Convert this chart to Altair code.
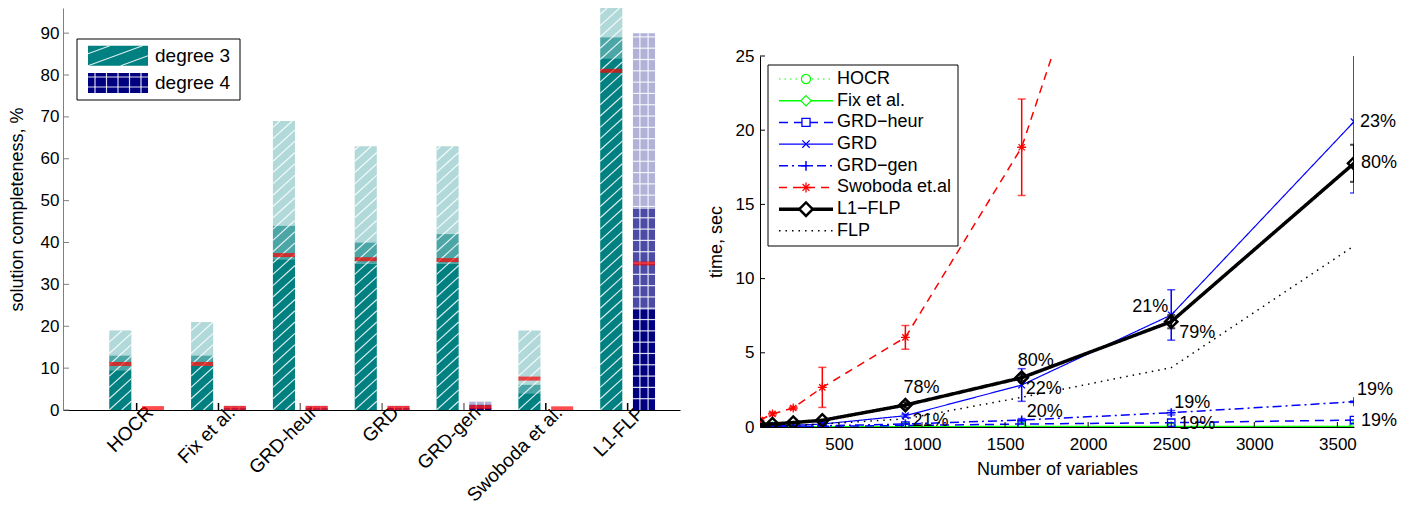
import altair as alt
import pandas as pd

FONT = "Liberation Sans"

# ---------------- left chart data ----------------
methods = ["HOCR", "Fix et al.", "GRD-heur", "GRD", "GRD-gen", "Swoboda et al.", "L1-FLP"]
d3_low = [9.5, 10.5, 36, 35, 35, 4, 84]
d3_mid = [13, 13, 44, 40, 42, 6, 89]
d3_tot = [19, 21, 69, 63, 63, 19, 100]
d3_red = [11, 11, 37, 36, 35.8, 7.5, 81]
d4_low = [0, 0, 0, 0, 0.5, 0, 24]
d4_mid = [0, 0.5, 0.5, 0.5, 1.3, 0, 48]
d4_tot = [0, 1, 1, 1, 2, 0, 90]
d4_red = [0.45, 0.5, 0.5, 0.5, 0.7, 0.4, 35]
tick_col = ["#000000", "#000000", "#777777", "#777777", "#777777", "#000000", "#000000"]

OFF = 0.2
BW = 0.135
YMAX = 96
LW, LH = 617, 402
HATCH_STEP = 2.7      # vertical spacing of hatch lines, in data units
HATCH_RISE = 4.8      # rise of a diagonal across the bar width, in data units


def diag_segments(xl, xr, bottom, top, step, rise):
    segs = []
    k = -int(rise / step) - 1
    while bottom + k * step < top:
        ys = bottom + k * step
        t0 = max(0.0, (bottom - ys) / rise)
        t1 = min(1.0, (top - ys) / rise)
        if t1 > t0:
            segs.append(dict(x0=xl + t0 * (xr - xl), x1=xl + t1 * (xr - xl),
                             y0=ys + t0 * rise, y1=ys + t1 * rise))
        k += 1
    return segs


bar_rows, red_rows, hatch_rows = [], [], []
for i, m in enumerate(methods):
    g = i + 1
    for deg, off, lo, mi, to, rd in [
        ("degree 3", -OFF, d3_low[i], d3_mid[i], d3_tot[i], d3_red[i]),
        ("degree 4", OFF, d4_low[i], d4_mid[i], d4_tot[i], d4_red[i]),
    ]:
        xl, xr = g + off - BW, g + off + BW
        for y0, y1, op in [(0, lo, 1.0), (lo, mi, 0.7), (mi, to, 0.3)]:
            if y1 > y0:
                bar_rows.append(dict(x0=xl, x1=xr, y0=y0, y1=y1, deg=deg, op=op))
        red_rows.append(dict(x0=g + off, y0=rd))
        top = min(to, YMAX)
        if top <= 0:
            continue
        if deg == "degree 3":
            hatch_rows += diag_segments(xl, xr, 0, top, HATCH_STEP, HATCH_RISE)
        else:
            k = 1
            while k * HATCH_STEP < top:
                hatch_rows.append(dict(x0=xl, x1=xr, y0=k * HATCH_STEP, y1=k * HATCH_STEP))
                k += 1
            for xv in [g + off - 0.05, g + off + 0.05]:
                hatch_rows.append(dict(x0=xv, x1=xv, y0=0, y1=top))

bars_df = pd.DataFrame(bar_rows)
red_df = pd.DataFrame(red_rows)
hatch_df = pd.DataFrame(hatch_rows)
gt_df = pd.DataFrame({"x0": list(range(1, 8)), "tc": tick_col})
yt_df = pd.DataFrame({"y0": list(range(0, 100, 10))})

label_expr = "[" + ",".join("'%s'" % m for m in methods) + "][datum.value - 1]"

xs_left = alt.Scale(domain=[0.1, 7.64], nice=False, zero=False)
ys_left = alt.Scale(domain=[0, YMAX], nice=False)
ax_lx = alt.Axis(values=list(range(1, 8)), labelExpr=label_expr, title=None,
                 labelAngle=-45, labelAlign="right", labelBaseline="middle", labelFontSize=19,
                 labelPadding=-1, labelOffset=13, labelOverlap=False, domainColor="#000000")
ax_ly = alt.Axis(values=list(range(0, 100, 10)), title="solution completeness, %",
                 titleFontSize=18, titlePadding=14, labelPadding=4, labelFontSize=17,
                 domainColor="#808080")

XL = alt.X("x0:Q", scale=xs_left, axis=ax_lx)
YL = alt.Y("y0:Q", scale=ys_left, axis=ax_ly)

bars = alt.Chart(bars_df).mark_bar(clip=True).encode(
    x=XL, x2="x1:Q", y=YL, y2="y1:Q",
    color=alt.Color("deg:N", scale=alt.Scale(domain=["degree 3", "degree 4"],
                                             range=["#008080", "#000080"]), legend=None),
    opacity=alt.Opacity("op:Q", scale=None),
)

hatch = alt.Chart(hatch_df).mark_rule(color="#ffffff", strokeWidth=1.2, opacity=0.85,
                                      clip=True).encode(x=XL, x2="x1:Q", y=YL, y2="y1:Q")

reds = alt.Chart(red_df).mark_tick(orient="horizontal", color="#ff0000", thickness=4,
                                   size=22, clip=True).encode(x=XL, y=YL)

gticks = alt.Chart(gt_df).mark_rule(strokeWidth=1.5).encode(
    x=XL, y=alt.value(LH), y2=alt.value(LH - 7),
    color=alt.Color("tc:N", scale=None))

yticks = alt.Chart(yt_df).mark_rule(color="#808080").encode(
    y=YL, x=alt.value(0), x2=alt.value(6))

# left legend (its own pixel-like x scale and row-based y scale)
ROWPX = 27.3
leg_l = pd.DataFrame({"row": [0, 1], "lab": ["degree 3", "degree 4"],
                      "deg": ["degree 3", "degree 4"]})
ly = alt.Scale(domain=[-1.747, LH / ROWPX - 1.747], reverse=True, nice=False, zero=False)
lx = alt.Scale(domain=[0, LW], nice=False, zero=False)
SW_L, SW_R, SW_H = 25, 85, 20
sw_h = SW_H / 2 / ROWPX
leg_hatch = []
for s in diag_segments(SW_L, SW_R, -sw_h, sw_h, 12 / ROWPX, 22 / ROWPX):
    # rows grow downwards, so mirror the diagonal to make it rise to the right
    leg_hatch.append(dict(x0=s["x0"], x1=s["x1"], y0=-s["y0"], y1=-s["y1"]))
for xv in [32, 43.5, 55, 66.5, 78]:
    leg_hatch.append(dict(x0=xv, x1=xv, y0=1 - sw_h, y1=1 + sw_h))
for yo in [-6, 4]:
    leg_hatch.append(dict(x0=SW_L, x1=SW_R, y0=1 + yo / ROWPX, y1=1 + yo / ROWPX))
leg_hatch_df = pd.DataFrame(leg_hatch)

leg_box_l = alt.Chart(pd.DataFrame({"a": [0]})).mark_rect(
    fill="white", stroke="#000000", strokeWidth=1).encode(
    x=alt.value(14), x2=alt.value(177), y=alt.value(31), y2=alt.value(92))
leg_sw = alt.Chart(leg_l).mark_tick(orient="horizontal", size=SW_R - SW_L, thickness=SW_H).encode(
    x=alt.value((SW_L + SW_R) / 2), y=alt.Y("row:Q", scale=ly, axis=None),
    color=alt.Color("deg:N", scale=alt.Scale(domain=["degree 3", "degree 4"],
                                             range=["#008080", "#000080"]), legend=None),
    opacity=alt.value(1))
leg_sw_hatch = alt.Chart(leg_hatch_df).mark_rule(color="#ffffff", strokeWidth=1.2,
                                                 opacity=0.85).encode(
    x=alt.X("x0:Q", scale=lx, axis=None), x2="x1:Q",
    y=alt.Y("y0:Q", scale=ly, axis=None), y2="y1:Q")
leg_tx = alt.Chart(leg_l).mark_text(align="left", baseline="middle", font=FONT,
                                    fontSize=19, color="#000000").encode(
    x=alt.value(92), y=alt.Y("row:Q", scale=ly, axis=None), text="lab:N")

left = alt.layer(
    alt.layer(bars, hatch, reds, gticks, yticks),
    alt.layer(leg_box_l, leg_sw, leg_sw_hatch, leg_tx),
).resolve_scale(x="independent", y="independent", color="independent").properties(
    width=LW, height=LH)

# ---------------- right chart data ----------------
n_vars = [25, 100, 225, 400, 900, 1600, 2500, 3600]
hocr = [0.01, 0.01, 0.01, 0.02, 0.02, 0.03, 0.03, 0.04]
fix = [0.01, 0.01, 0.01, 0.02, 0.02, 0.03, 0.03, 0.04]
grd_heur = [0.01, 0.02, 0.03, 0.05, 0.1, 0.2, 0.29, 0.47]
grd = [0.05, 0.08, 0.12, 0.2, 0.76, 2.83, 7.55, 20.57]
grd_err = [0, 0, 0, 0, 0.1, 1.1, 1.7, 4.8]
grd_gen = [0.02, 0.03, 0.05, 0.08, 0.2, 0.47, 0.96, 1.7]
grd_gen_err = [0, 0, 0, 0, 0, 0.1, 0.15, 0.05]
swoboda_x = [25, 100, 225, 400, 900, 1600, 2500]
swoboda = [0.47, 0.88, 1.28, 2.67, 6.04, 18.85, 49.2]
swoboda_err = [0.1, 0.1, 0.1, 1.35, 0.8, 3.25, 4.0]
l1flp = [0.15, 0.2, 0.3, 0.45, 1.48, 3.32, 7.1, 17.77]
l1flp_err = [0, 0, 0, 0, 0.2, 0.2, 0.45, 1.25]
flp = [0.02, 0.04, 0.1, 0.2, 0.55, 2.0, 4.0, 12.2]

names = ["HOCR", "Fix et al.", "GRD\u2212heur", "GRD", "GRD\u2212gen", "Swoboda et.al", "L1\u2212FLP", "FLP"]

X_PATH = "M-1,-1L1,1M-1,1L1,-1"
PLUS_PATH = "M-1,0L1,0M0,-1L0,1"
STAR_PATH = "M-1,0L1,0M0,-1L0,1M-0.7,-0.7L0.7,0.7M-0.7,0.7L0.7,-0.7"
SQ_PATH = "M-1,-1L1,-1L1,1L-1,1Z"

series = [
    dict(name=names[0], x=n_vars, y=hocr, err=None, color="#00ff00", dash=[1.5, 4], w=1.2,
         shape="circle", msize=70, mw=1.2),
    dict(name=names[1], x=n_vars, y=fix, err=None, color="#00ff00", dash=[1, 0], w=1.5,
         shape="diamond", msize=90, mw=1.2),
    dict(name=names[2], x=n_vars, y=grd_heur, err=None, color="#0000ff", dash=[9, 6], w=1.5,
         shape=SQ_PATH, msize=55, mw=1.3),
    dict(name=names[3], x=n_vars, y=grd, err=grd_err, color="#0000ff", dash=[1, 0], w=1.2,
         shape=X_PATH, msize=45, mw=1.3),
    dict(name=names[4], x=n_vars, y=grd_gen, err=grd_gen_err, color="#0000ff", dash=[9, 4, 2, 4],
         w=1.5, shape=PLUS_PATH, msize=80, mw=1.5),
    dict(name=names[5], x=swoboda_x, y=swoboda, err=swoboda_err, color="#ff0000", dash=[8, 6],
         w=1.5, shape=STAR_PATH, msize=80, mw=1.3),
    dict(name=names[6], x=n_vars, y=l1flp, err=l1flp_err, color="#000000", dash=[1, 0], w=3.5,
         shape="diamond", msize=150, mw=2.5),
    dict(name=names[7], x=n_vars, y=flp, err=None, color="#000000", dash=[1.5, 5], w=1.5,
         shape=None, msize=0, mw=0),
]

RW, RH = 594, 371
xs_r = alt.Scale(domain=[25, 3600], nice=False, zero=False)
ys_r = alt.Scale(domain=[0, 25], nice=False)

ax_rx = alt.Axis(values=[500, 1000, 1500, 2000, 2500, 3000, 3500], title="Number of variables",
                 titlePadding=8, labelPadding=9, format="d", labelOverlap=False,
                 titleFontSize=18, labelFontSize=17, domainColor="#000000")
ax_ry = alt.Axis(values=[0, 5, 10, 15, 20, 25], title="time, sec", titlePadding=10,
                 titleFontSize=18, labelFontSize=17, labelPadding=6, domainColor="#000000")


def XR(f="x"):
    return alt.X(f + ":Q", scale=xs_r, axis=ax_rx)


def YR(f="y"):
    return alt.Y(f + ":Q", scale=ys_r, axis=ax_ry)


data_layers = []
for s in series:
    df = pd.DataFrame({"x": s["x"], "y": s["y"]})
    data_layers.append(alt.Chart(df).mark_line(color=s["color"], strokeDash=s["dash"],
                                               strokeWidth=s["w"], clip=True).encode(x=XR(), y=YR()))
    if s["err"] is not None:
        edf = pd.DataFrame({"x": s["x"], "y": [a - e for a, e in zip(s["y"], s["err"])],
                            "hi": [a + e for a, e in zip(s["y"], s["err"])],
                            "e": s["err"]})
        edf = edf[edf["e"] > 0]
        ew = 2.0 if s["color"] == "#000000" else 1.5
        data_layers.append(alt.Chart(edf).mark_rule(color=s["color"], strokeWidth=ew, clip=True)
                           .encode(x=XR(), y=YR(), y2="hi:Q"))
        data_layers.append(alt.Chart(edf).mark_tick(orient="horizontal", color=s["color"],
                                                    size=8, thickness=ew, clip=True)
                           .encode(x=XR(), y=YR("y")))
        data_layers.append(alt.Chart(edf.assign(y=edf["hi"])).mark_tick(
            orient="horizontal", color=s["color"], size=8, thickness=ew, clip=True)
            .encode(x=XR(), y=YR("y")))
    if s["shape"] is not None:
        data_layers.append(alt.Chart(df).mark_point(shape=s["shape"], filled=False, color=s["color"],
                                                    size=s["msize"], strokeWidth=s["mw"], opacity=1,
                                                    clip=True)
                           .encode(x=XR(), y=YR()))

# inward ticks
xt_df = pd.DataFrame({"x": [500, 1000, 1500, 2000, 2500, 3000, 3500]})
yt2_df = pd.DataFrame({"y": [0, 5, 10, 15, 20, 25]})
data_layers.append(alt.Chart(xt_df).mark_rule(color="#000000").encode(
    x=XR(), y=alt.value(RH), y2=alt.value(RH - 5)))
data_layers.append(alt.Chart(yt2_df).mark_rule(color="#000000").encode(
    y=YR(), x=alt.value(0), x2=alt.value(5)))

# percentage annotations: (series index, x, text, dx, dy, align)
ann = [
    (6, 900, "78%", -2, -17, "left"),
    (3, 900, "21%", 7, 5, "left"),
    (6, 1600, "80%", -4, -17, "left"),
    (3, 1600, "22%", 4, 4, "left"),
    (4, 1600, "20%", 5, -8, "left"),
    (3, 2500, "21%", -3, -8, "right"),
    (6, 2500, "79%", 8, 11, "left"),
    (4, 2500, "19%", 3, -10, "left"),
    (2, 2500, "19%", 8, 1, "left"),
    (3, 3600, "23%", 6, 0, "left"),
    (6, 3600, "80%", 7, 0, "left"),
    (4, 3600, "19%", 3, -12, "left"),
    (2, 3600, "19%", 7, 1, "left"),
]
for si, xv, txt, dx, dy, al in ann:
    s = series[si]
    yv = s["y"][s["x"].index(xv)]
    adf = pd.DataFrame({"x": [xv], "y": [yv], "t": [txt]})
    data_layers.append(alt.Chart(adf).mark_text(align=al, baseline="middle", dx=dx, dy=dy,
                                                font=FONT, fontSize=18, color="#000000")
                       .encode(x=XR(), y=YR(), text="t:N"))

# right legend
ry = alt.Scale(domain=[-1.06, 16.04], reverse=True, nice=False, zero=False)
leg_layers = [alt.Chart(pd.DataFrame({"a": [0]})).mark_rect(
    fill="white", stroke="#000000", strokeWidth=1).encode(
    x=alt.value(8), x2=alt.value(198), y=alt.value(9), y2=alt.value(190))]
for r, s in enumerate(series):
    ldf = pd.DataFrame({"row": [r], "t": [s["name"]]})
    yl = alt.Y("row:Q", scale=ry, axis=None)
    leg_layers.append(alt.Chart(ldf).mark_rule(color=s["color"], strokeDash=s["dash"],
                                               strokeWidth=s["w"]).encode(
        x=alt.value(19), x2=alt.value(73), y=yl))
    if s["shape"] is not None:
        leg_layers.append(alt.Chart(ldf).mark_point(shape=s["shape"], filled=False, color=s["color"],
                                                    size=s["msize"] * 1.2, strokeWidth=s["mw"],
                                                    opacity=1, fill="white").encode(
            x=alt.value(46), y=yl))
    leg_layers.append(alt.Chart(ldf).mark_text(align="left", baseline="middle", font=FONT,
                                               fontSize=18, color="#000000").encode(
        x=alt.value(77), y=yl, text="t:N"))

right = alt.layer(
    alt.layer(*data_layers),
    alt.layer(*leg_layers),
).resolve_scale(y="independent").properties(width=RW, height=RH)

spacer = alt.Chart(pd.DataFrame({"a": [0]})).mark_point(opacity=0, size=1).encode(
    x=alt.value(5), y=alt.value(20)).properties(width=RW, height=39)

chart = alt.hconcat(left, alt.vconcat(spacer, right, spacing=0), spacing=27).properties(
    padding={"left": 0, "top": 0, "right": 0, "bottom": 0}
).configure_view(stroke=None).configure_axis(
    labelFont=FONT, labelFontSize=16, labelColor="#000000",
    titleFont=FONT, titleFontSize=16, titleFontWeight="normal", titleColor="#000000",
    tickSize=0, grid=False
)

chart.save("out.html", embed_options={"renderer": "svg", "actions": False})
